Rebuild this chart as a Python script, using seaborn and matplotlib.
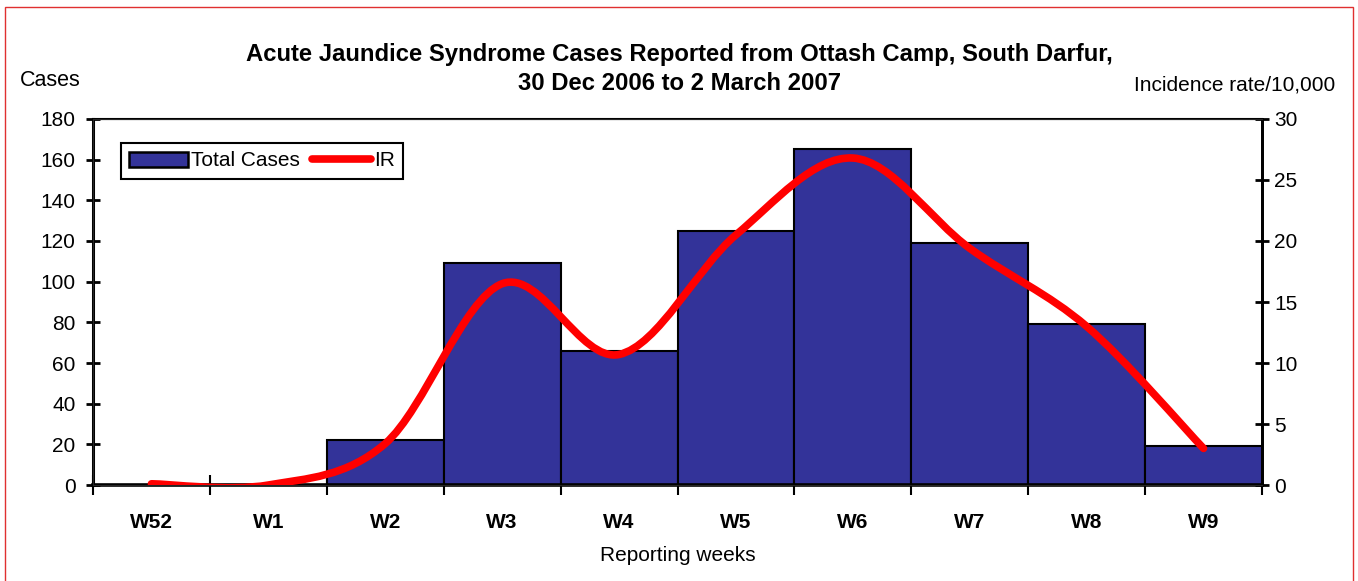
import numpy as np
import pandas as pd
import matplotlib
matplotlib.use("Agg")
import matplotlib.pyplot as plt
import seaborn as sns
from matplotlib.path import Path
from matplotlib.patches import PathPatch, Patch, Rectangle
from matplotlib.lines import Line2D

# Data
weeks = ["W52", "W1", "W2", "W3", "W4", "W5", "W6", "W7", "W8", "W9"]
total_cases = [0, 0, 22, 109, 66, 125, 165, 119, 79, 19]
ir = [0.1, 0.0, 3.4, 16.5, 10.7, 20.5, 26.8, 19.4, 13.0, 3.0]

df = pd.DataFrame({"week": weeks, "cases": total_cases, "ir": ir})

sns.set_style("ticks")
plt.rcParams["font.family"] = ["Liberation Sans", "DejaVu Sans"]
plt.rcParams["text.color"] = "black"
plt.rcParams["xtick.color"] = "black"
plt.rcParams["ytick.color"] = "black"
plt.rcParams["axes.labelcolor"] = "black"

fig = plt.figure(figsize=(13.58, 5.81), dpi=100)
ax = fig.add_axes([0.0685, 0.1652, 0.8608, 0.6300])

bar_color = "#333399"
sns.barplot(data=df, x="week", y="cases", color=bar_color, width=1.0,
            edgecolor="black", linewidth=1.5, saturation=1, ax=ax, zorder=2)
ax.set_xlim(-0.5, len(weeks) - 0.5)
ax.set_ylim(0, 180)
ax.set_yticks(range(0, 181, 20))
ax.set_xlabel("Reporting weeks", fontsize=15, labelpad=10)
ax.set_ylabel("")

# x ticks sit at bar edges, labels at bar centres
ax.set_xticks(np.arange(len(weeks)))
ax.set_xticklabels(weeks, fontsize=15, fontweight="bold")
ax.tick_params(axis="x", which="major", length=0, pad=20)
ax.set_xticks(np.arange(-0.5, len(weeks)), minor=True)
ax.tick_params(axis="x", which="minor", direction="inout", length=14, width=1.5)
ax.tick_params(axis="y", direction="inout", length=10, width=2, labelsize=15, pad=7.5)

for side in ["left", "bottom", "top", "right"]:
    ax.spines[side].set_visible(True)
    ax.spines[side].set_color("black")
ax.spines["left"].set_linewidth(2.2)
ax.spines["bottom"].set_linewidth(2.6)
ax.spines["top"].set_linewidth(1.5)
ax.spines["right"].set_linewidth(2)

ax2 = ax.twinx()
ax2.set_ylim(0, 30)
ax2.set_yticks(range(0, 31, 5))
ax2.tick_params(axis="y", direction="inout", length=10, width=2, labelsize=15, pad=4)
ax2.spines["right"].set_linewidth(2)
ax2.spines["right"].set_color("black")
ax2.grid(False)

# smoothed IR line (Excel-style bezier through the data points)
x = np.arange(len(ir), dtype=float)
y = np.array(ir, dtype=float)
xp = np.concatenate([[x[0]], x, [x[-1]]])
yp = np.concatenate([[y[0]], y, [y[-1]]])
verts = [(x[0], y[0])]
codes = [Path.MOVETO]
for i in range(len(x) - 1):
    c1 = (x[i] + (xp[i + 2] - xp[i]) / 6, y[i] + (yp[i + 2] - yp[i]) / 6)
    c2 = (x[i + 1] - (xp[i + 3] - xp[i + 1]) / 6, y[i + 1] - (yp[i + 3] - yp[i + 1]) / 6)
    verts += [c1, c2, (x[i + 1], y[i + 1])]
    codes += [Path.CURVE4] * 3
ax2.add_patch(PathPatch(Path(verts, codes), facecolor="none", edgecolor="#ff0000",
                        linewidth=5.5, capstyle="round", joinstyle="round", zorder=5))

handles = [Patch(facecolor=bar_color, edgecolor="black", linewidth=1.8),
           Line2D([], [], color="#ff0000", linewidth=5.5, solid_capstyle="round")]
leg = ax2.legend(handles, ["Total Cases", "IR"], loc="upper left",
                 bbox_to_anchor=(0.024, 0.934), borderaxespad=0, ncol=2,
                 fontsize=15, frameon=True, fancybox=False, framealpha=1,
                 edgecolor="black", handlelength=2.8, handleheight=0.75,
                 handletextpad=0.15, columnspacing=0.6, borderpad=0.4)
leg.get_frame().set_linewidth(1.5)

fig.text(0.5, 0.907, "Acute Jaundice Syndrome Cases Reported from Ottash Camp, South Darfur,",
         ha="center", va="center", fontsize=17.2, fontweight="bold")
fig.text(0.5, 0.857, "30 Dec 2006 to 2 March 2007",
         ha="center", va="center", fontsize=17.2, fontweight="bold")
fig.text(0.0147, 0.862, "Cases", ha="left", va="center", fontsize=15.5)
fig.text(0.983, 0.853, "Incidence rate/10,000", ha="right", va="center", fontsize=15)

fig.patches.append(Rectangle((0.004, -0.05), 0.992, 1.038, transform=fig.transFigure,
                             fill=False, edgecolor="#e03030", linewidth=1, clip_on=False))

fig.savefig("out.png", dpi=100)
